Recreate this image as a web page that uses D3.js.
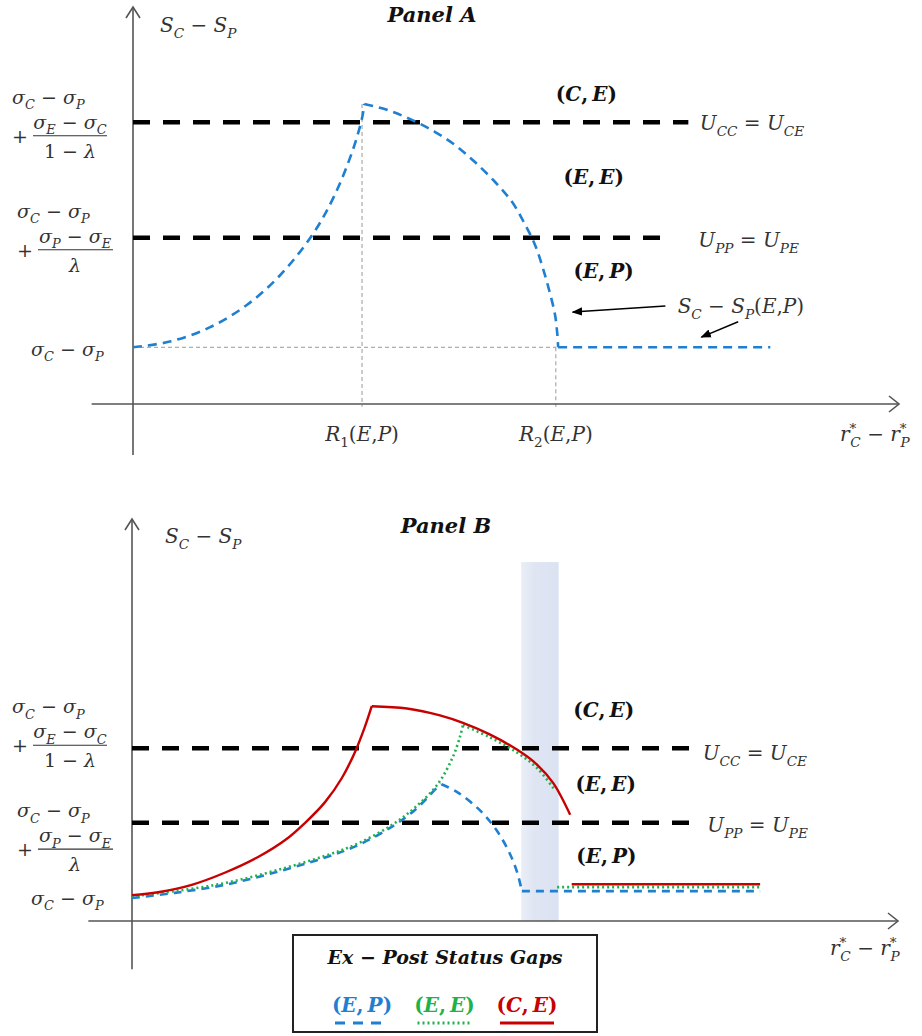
<!DOCTYPE html>
<html>
<head>
<meta charset="utf-8">
<script src="https://cdn.jsdelivr.net/npm/d3@7"></script>
<style>
body { margin: 0; background: #fff; }
svg text { font-family: "DejaVu Serif", serif; white-space: pre; }
</style>
</head>
<body>
<svg width="922" height="1036"></svg>
<script>
/*************
* data       *
*************/
// chart units : x = r*C - r*P , y = SC - SP

/*-- panel A --*/
var blueA_up = [[0, 1.00], [0.48, 1.10], [1.00, 1.35], [1.49, 1.75], [1.92, 2.27], [2.34, 2.98],
                [2.61, 3.62], [2.86, 4.44], [2.99, 5.04], [3.02, 5.29]]
var blueA_down = [[3.02, 5.29], [3.33, 5.18], [3.64, 5.01], [3.94, 4.80], [4.20, 4.57], [4.46, 4.27],
                  [4.73, 3.91], [4.95, 3.56], [5.12, 3.16], [5.25, 2.80], [5.35, 2.40], [5.44, 1.97],
                  [5.51, 1.57], [5.54, 1.22], [5.55, 1.00]]
var blueA_flat = [[5.55, 1.00], [8.32, 1.00]]

var levelsA = [4.97, 2.93]          // Ucc = Uce , Upp = Upe
var levelEndsA = [7.25, 7.04]
var baseA = 1.00                    // sigmaC - sigmaP
var rTicksA = [2.99, 5.52]          // R1(E,P) , R2(E,P)
var rTickNames = ["1", "2"]
var regionNames = ["(C,\u2009E)", "(E,\u2009E)", "(E,\u2009P)"]
var regionPosA = [[5.52, 5.34], [5.62, 3.88], [5.75, 2.22]]
var levelNames = ["U_C_C = U_C_E", "U_P_P = U_P_E"]
var levelNamePosA = [[7.40, 4.83], [7.38, 2.77]]
var leftAnchorsA = [4.73, 2.72, 0.95]
var arrowsA = [[[6.95, 1.73], [5.74, 1.62]], [[7.90, 1.45], [7.42, 1.18]]]
var arrowTextA = [7.11, 1.60]

/*-- panel B --*/
var redB_up = [[0, 0.45], [0.34, 0.50], [0.78, 0.63], [1.21, 0.84], [1.64, 1.11], [2.00, 1.41],
               [2.26, 1.71], [2.52, 2.07], [2.74, 2.49], [2.91, 2.94], [3.04, 3.38], [3.13, 3.74]]
var redB_down = [[3.13, 3.74], [3.59, 3.70], [4.02, 3.58], [4.32, 3.45], [4.67, 3.25], [5.03, 2.98],
                 [5.29, 2.72], [5.50, 2.40], [5.72, 1.85]]
var redB_flat = [[5.74, 0.64], [8.20, 0.64]]

var greenB_up = [[0, 0.43], [0.56, 0.52], [1.21, 0.66], [1.85, 0.87], [2.51, 1.13], [2.95, 1.35],
                 [3.39, 1.67], [3.69, 1.97], [3.99, 2.38], [4.19, 2.86], [4.28, 3.20], [4.32, 3.41]]
var greenB_down = [[4.32, 3.41], [4.67, 3.20], [5.03, 2.93], [5.29, 2.66], [5.52, 2.28]]
var greenB_flat = [[5.55, 0.59], [8.20, 0.59]]

var blueB_up = [[0, 0.40], [0.56, 0.49], [1.21, 0.63], [1.85, 0.84], [2.51, 1.10], [2.95, 1.32],
                [3.39, 1.64], [3.69, 1.93], [3.99, 2.33], [4.04, 2.38]]
var blueB_down = [[4.04, 2.38], [4.24, 2.25], [4.54, 1.93], [4.76, 1.58], [4.93, 1.18], [5.03, 0.84],
                  [5.09, 0.52]]
var blueB_flat = [[5.09, 0.52], [8.20, 0.52]]

var levelsB = [3.01, 1.71]
var levelEndsB = [7.36, 7.36]
var bandB = [5.08, 5.57]
var bandTopB = 6.25
var regionPosB = [[5.76, 3.55], [5.79, 2.26], [5.80, 1.01]]
var levelNamePosB = [[7.45, 2.80], [7.51, 1.55]]
var leftAnchorsB = [3.06, 1.25, 0.38]

/*-- legend --*/
var legendNames = ["(E,\u2009P)", "(E,\u2009E)", "(C,\u2009E)"]
var legendColors = ["#1f7fd0", "#1fb24c", "#c80000"]
var legendDash = ["10,8", "2,3", null]

/*************
* scales     *
*************/
var xA = d3.scaleLinear().domain([0, 10]).range([133, 899])
var yA = d3.scaleLinear().domain([0, 7]).range([404, 7])
var xB = d3.scaleLinear().domain([0, 10]).range([132, 898])
var yB = d3.scaleLinear().domain([0, 7]).range([921, 519])

var svg = d3.select("svg")

var defs = svg.append("defs")
defs.append("marker")
    .attr("id", "head")
    .attr("viewBox", "0 0 10 10")
    .attr("refX", 9).attr("refY", 5)
    .attr("markerWidth", 7).attr("markerHeight", 7)
    .attr("markerUnits", "strokeWidth")
    .attr("orient", "auto")
    .append("path").attr("d", "M0,1 L10,5 L0,9 Z").attr("fill", "#000")

var grad = defs.append("linearGradient").attr("id", "band")
grad.append("stop").attr("offset", "0%").attr("stop-color", "#eaeef7")
grad.append("stop").attr("offset", "35%").attr("stop-color", "#dfe5f3")
grad.append("stop").attr("offset", "100%").attr("stop-color", "#dbe2f1")

/*************
* helpers    *
*************/

/* small math writer : "_X" subscript, "^X" superscript, letters in italic */
function mathText(g, x, y, src, o) {
    o = o || {}
    var size = o.size || 20
    var t = g.append("text")
        .attr("x", x)
        .attr("y", y)
        .attr("font-size", size)
        .attr("fill", o.fill || "#333")
        .attr("font-weight", o.bold ? "bold" : "normal")
        .attr("text-anchor", o.anchor || "start")
    var cur = 0, i = 0, prevSup = false
    while (i < src.length) {
        var ch = src[i], kind = "n"
        if ((ch == "_" || ch == "^") && i + 1 < src.length) {
            kind = ch == "_" ? "sub" : "sup"
            ch = src[i + 1]
            i += 2
        } else {
            i += 1
        }
        var off = kind == "sub" ? 0.28 * size : (kind == "sup" ? -0.4 * size : 0)
        var ts = t.append("tspan")
            .text(ch)
            .attr("dy", off - cur)
            .attr("font-size", kind == "n" ? size : 0.68 * size)
            .attr("font-style", /[A-Za-zσλ]/.test(ch) ? "italic" : "normal")
        if (kind == "sub" && prevSup) ts.attr("dx", -0.3 * size)
        prevSup = kind == "sup"
        cur = off
    }
    return t
}

function line(x, y) {
    return d3.line()
        .x(function(d) { return x(d[0]) })
        .y(function(d) { return y(d[1]) })
        .curve(d3.curveCatmullRom.alpha(0.5))
}

function drawSeries(g, x, y, parts, color, width, dash) {
    parts.forEach(function(p) {
        g.append("path")
            .datum(p)
            .attr("d", line(x, y))
            .attr("fill", "none")
            .attr("stroke", color)
            .attr("stroke-width", width)
            .attr("stroke-linejoin", "round")
            .attr("stroke-dasharray", dash)
    })
}

function drawAxes(g, x, y, xMin, yMin) {
    var ax = "#555"
    g.append("line")
        .attr("x1", x(xMin)).attr("x2", x(10))
        .attr("y1", y(0)).attr("y2", y(0))
        .attr("stroke", ax).attr("stroke-width", 1.6)
    g.append("path")
        .attr("d", "M" + (x(10) - 10) + "," + (y(0) - 8) + "L" + x(10) + "," + y(0) + "L" + (x(10) - 10) + "," + (y(0) + 8))
        .attr("fill", "none").attr("stroke", ax).attr("stroke-width", 1.6)
    g.append("line")
        .attr("x1", x(0)).attr("x2", x(0))
        .attr("y1", y(yMin)).attr("y2", y(7))
        .attr("stroke", ax).attr("stroke-width", 1.6)
    g.append("path")
        .attr("d", "M" + (x(0) - 7) + "," + (y(7) + 11) + "L" + x(0) + "," + y(7) + "L" + (x(0) + 7) + "," + (y(7) + 11))
        .attr("fill", "none").attr("stroke", ax).attr("stroke-width", 1.6)
}

function drawLevels(g, x, y, levels, ends) {
    levels.forEach(function(v, i) {
        g.append("line")
            .attr("x1", x(0)).attr("x2", x(ends[i]))
            .attr("y1", y(v)).attr("y2", y(v))
            .attr("stroke", "#000")
            .attr("stroke-width", 4.5)
            .attr("stroke-dasharray", "17,13")
    })
}

/* labels on the left of the y axis */
function drawLeftLabels(g, y, anchors) {
    var a1 = y(anchors[0]), a2 = y(anchors[1]), a3 = y(anchors[2])
    var s = {size: 19}
    // first group
    mathText(g, 12, a1 - 32, "σ_C − σ_P", s)
    mathText(g, 12, a1 + 7, "+", s)
    mathText(g, 70, a1 - 7, "σ_E − σ_C", {anchor: "middle", size: 19})
    g.append("line").attr("x1", 33).attr("x2", 107).attr("y1", a1).attr("y2", a1)
        .attr("stroke", "#333").attr("stroke-width", 1.2)
    mathText(g, 70, a1 + 22, "1 − λ", {anchor: "middle", size: 19})
    // second group
    mathText(g, 17, a2 - 32, "σ_C − σ_P", s)
    mathText(g, 17, a2 + 7, "+", s)
    mathText(g, 75, a2 - 7, "σ_P − σ_E", {anchor: "middle", size: 19})
    g.append("line").attr("x1", 38).attr("x2", 113).attr("y1", a2).attr("y2", a2)
        .attr("stroke", "#333").attr("stroke-width", 1.2)
    mathText(g, 75, a2 + 22, "λ", {anchor: "middle", size: 19})
    // third
    mathText(g, 31, a3 + 6, "σ_C − σ_P", s)
}

function drawRegions(g, x, y, pos) {
    regionNames.forEach(function(n, i) {
        mathText(g, x(pos[i][0]), y(pos[i][1]), n, {bold: true, fill: "#111"})
    })
}

function drawLevelNames(g, x, y, pos) {
    levelNames.forEach(function(n, i) {
        mathText(g, x(pos[i][0]), y(pos[i][1]), n)
    })
}

/*************
* panel A    *
*************/
var gA = svg.append("g").attr("class", "panelA")

// thin guide lines
gA.append("line")
    .attr("x1", xA(0)).attr("x2", xA(rTicksA[1]))
    .attr("y1", yA(baseA)).attr("y2", yA(baseA))
    .attr("stroke", "#999").attr("stroke-width", 1).attr("stroke-dasharray", "4,3")
gA.append("line")
    .attr("x1", xA(rTicksA[0])).attr("x2", xA(rTicksA[0]))
    .attr("y1", yA(blueA_up[blueA_up.length - 1][1])).attr("y2", yA(-0.05))
    .attr("stroke", "#999").attr("stroke-width", 1).attr("stroke-dasharray", "4,3")
gA.append("line")
    .attr("x1", xA(rTicksA[1])).attr("x2", xA(rTicksA[1]))
    .attr("y1", yA(baseA)).attr("y2", yA(-0.05))
    .attr("stroke", "#999").attr("stroke-width", 1).attr("stroke-dasharray", "4,3")

drawAxes(gA, xA, yA, -0.54, -0.9)
drawLevels(gA, xA, yA, levelsA, levelEndsA)
drawSeries(gA, xA, yA, [blueA_up, blueA_down, blueA_flat], "#1f7fd0", 2.6, "9,6")

mathText(gA, 432, 22, "Panel A", {bold: true, size: 21, anchor: "middle", fill: "#111"})
mathText(gA, 160, 32, "S_C − S_P")
rTicksA.forEach(function(v, i) {
    mathText(gA, xA(v), 441, "R_" + rTickNames[i] + "(E,P)", {anchor: "middle"})
})
mathText(gA, 840, 441, "r^*_C − r^*_P")
drawLeftLabels(gA, yA, leftAnchorsA)
drawRegions(gA, xA, yA, regionPosA)
drawLevelNames(gA, xA, yA, levelNamePosA)

mathText(gA, xA(arrowTextA[0]), yA(arrowTextA[1]), "S_C − S_P(E,P)")
arrowsA.forEach(function(a) {
    gA.append("line")
        .attr("x1", xA(a[0][0])).attr("y1", yA(a[0][1]))
        .attr("x2", xA(a[1][0])).attr("y2", yA(a[1][1]))
        .attr("stroke", "#000").attr("stroke-width", 1.5)
        .attr("marker-end", "url(#head)")
})

/*************
* panel B    *
*************/
var gB = svg.append("g").attr("class", "panelB")

gB.append("rect")
    .attr("x", xB(bandB[0]))
    .attr("y", yB(bandTopB))
    .attr("width", xB(bandB[1]) - xB(bandB[0]))
    .attr("height", yB(0) - yB(bandTopB))
    .attr("fill", "url(#band)")

drawAxes(gB, xB, yB, -0.57, -0.84)
drawLevels(gB, xB, yB, levelsB, levelEndsB)
drawSeries(gB, xB, yB, [blueB_up, blueB_down, blueB_flat], legendColors[0], 2.6, "8,6")
drawSeries(gB, xB, yB, [greenB_up, greenB_down, greenB_flat], legendColors[1], 2.6, "2,3")
drawSeries(gB, xB, yB, [redB_up, redB_down, redB_flat], legendColors[2], 2.4, null)

mathText(gB, 446, 533, "Panel B", {bold: true, size: 21, anchor: "middle", fill: "#111"})
mathText(gB, 165, 543, "S_C − S_P")
mathText(gB, 830, 955, "r^*_C − r^*_P")
drawLeftLabels(gB, yB, leftAnchorsB)
drawRegions(gB, xB, yB, regionPosB)
drawLevelNames(gB, xB, yB, levelNamePosB)

/*************
* legend     *
*************/
var gL = svg.append("g").attr("class", "legend")
gL.append("rect")
    .attr("x", 293).attr("y", 935).attr("width", 304).attr("height", 97)
    .attr("fill", "#fff").attr("stroke", "#222").attr("stroke-width", 2)
mathText(gL, 445, 964, "Ex − Post Status Gaps", {bold: true, size: 19, anchor: "middle", fill: "#111"})
legendNames.forEach(function(n, i) {
    var cx = 362 + i * 82.5
    mathText(gL, cx, 1012, n, {bold: true, fill: legendColors[i], anchor: "middle"})
    gL.append("line")
        .attr("x1", cx - 27).attr("x2", cx + 27)
        .attr("y1", 1023).attr("y2", 1023)
        .attr("stroke", legendColors[i])
        .attr("stroke-width", 3)
        .attr("stroke-dasharray", legendDash[i])
})
</script>
</body>
</html>
